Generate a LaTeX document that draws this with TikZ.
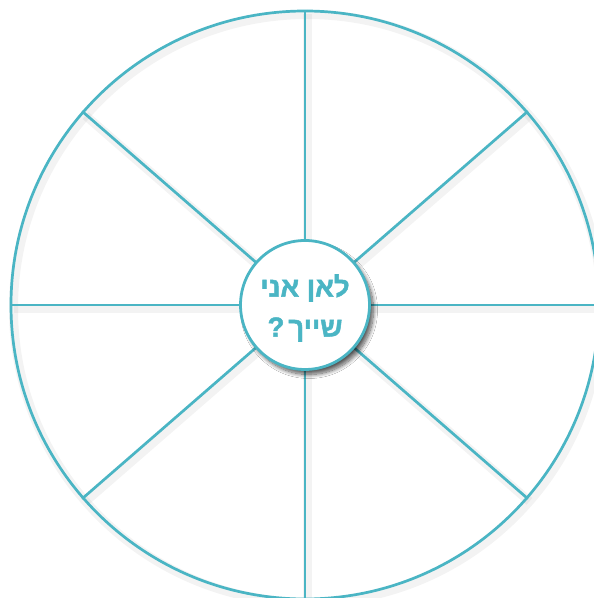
\documentclass[tikz,border=0pt]{standalone}
\usepackage{fontspec}
\newfontfamily\hebfont[Script=Hebrew, FakeBold=1.6]{Liberation Sans Bold}
\TeXXeTstate=1
\usetikzlibrary{shadows.blur}
\definecolor{wheelteal}{RGB}{74,181,196}
\begin{document}
\begin{tikzpicture}[x=1pt, y=1pt,
    rim/.style={circle, draw=wheelteal, line width=2.7pt, inner sep=0pt, minimum size=588pt},
    spoke/.style={draw=wheelteal, line width=2.7pt},
    haze/.style={draw=black!50, line width=9pt, opacity=0.09},
    hub/.style={circle, draw=wheelteal, line width=2.8pt, fill=white, inner sep=0pt,
      minimum size=129pt,
      blur shadow={shadow xshift=4pt, shadow yshift=-5pt, shadow blur radius=4pt,
        shadow blur steps=12, shadow opacity=65}},
    ask/.style={text=wheelteal, align=center, font=\hebfont\fontsize{27.5}{40}\selectfont}]
  \useasboundingbox (0,0) rectangle (594,598);
  \fill[white] (0,0) rectangle (594,598);
  \coordinate (mid) at (305,293);
  % soft shade under the rim and the spokes
  \begin{scope}[transform canvas={shift={(2.5pt,-3.5pt)}}]
    \draw[haze] (mid) circle (294pt);
    \foreach \a in {0,41,90,139,180,221,270,319}
      \draw[haze] (mid) -- ++(\a:294pt);
  \end{scope}
  \node[rim] (wheel) at (mid) {};
  \foreach \a in {0,41,90,139,180,221,270,319}
    \draw[spoke] (mid) -- (wheel.\a);
  \node[hub] (hub) at (mid) {};
  \node[ask] (title) at ([yshift=-3pt]hub.center)
    {\beginR לאן אני\endR\\\beginR שייך\kern4pt?\endR};
\end{tikzpicture}
\end{document}
